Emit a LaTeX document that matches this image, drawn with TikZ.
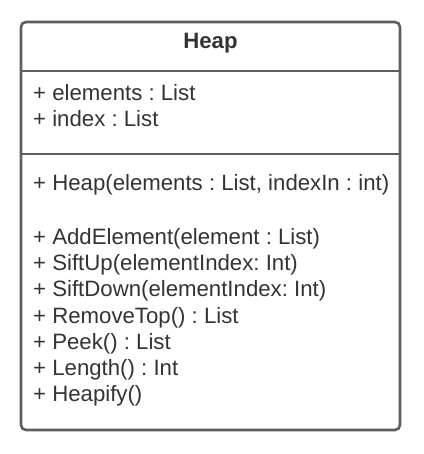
\documentclass[tikz,border=0pt]{standalone}
\usepackage{fontspec}
\setmainfont{Liberation Sans}
\frenchspacing
\definecolor{boxline}{HTML}{5E5E5E}
\definecolor{boxtext}{HTML}{333333}
\tikzset{
  member/.style={anchor=west,inner sep=0pt,text=boxtext,font=\fontsize{22.2}{26}\selectfont},
  title/.style={inner sep=0pt,text=boxtext,font=\fontsize{22.2}{26}\selectfont\bfseries}
}
\begin{document}
\begin{tikzpicture}[x=1pt,y=-1pt]
    \useasboundingbox (0,0) rectangle (423,454);
    \coordinate (nw) at (21,22);
    \coordinate (se) at (400,430);
    \draw[boxline,line width=2.6pt,rounded corners=5pt] (nw) rectangle (se);
    \draw[boxline,line width=2.6pt] (21,71)--(400,71);
    \draw[boxline,line width=2.6pt] (21,154)--(400,154);

    \node[title] (name) at (210.5,43) {Heap};

    \node[member] (elements) at (33,93) {+ elements : List};
    \node[member] (index) at (33,119) {+ index : List};

    \node[member] (ctor) at (33,185) {+ Heap(elements : List, indexIn : int)};
    \node[member] (add) at (33,239) {+ AddElement(element : List)};
    \node[member] (up) at (33,265) {+ SiftUp(elementIndex: Int)};
    \node[member] (down) at (33,291) {+ SiftDown(elementIndex: Int)};
    \node[member] (top) at (33,318) {+ RemoveTop() : List};
    \node[member] (peek) at (33,344) {+ Peek() : List};
    \node[member] (len) at (33,370) {+ Length() : Int};
    \node[member] (heapify) at (33,396) {+ Heapify()};
\end{tikzpicture}
\end{document}
